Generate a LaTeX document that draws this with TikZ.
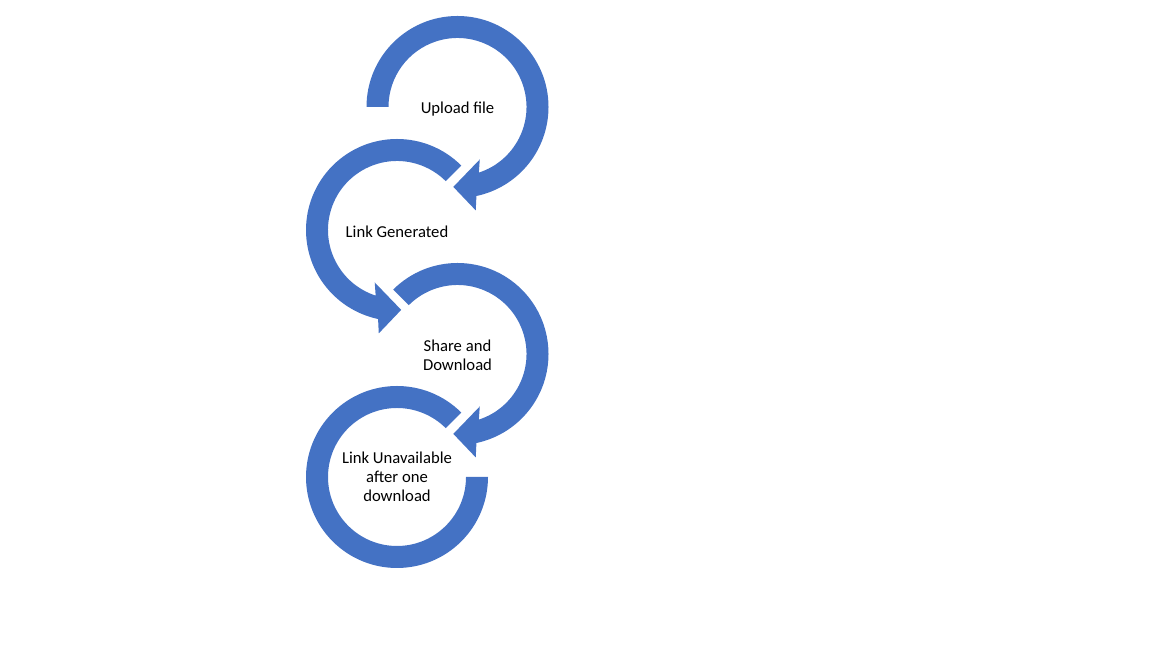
\documentclass[tikz,border=0pt]{standalone}
\usepackage{fontspec}
\setmainfont{Carlito}
\definecolor{officeblue}{HTML}{4472C4}
\begin{document}
\begin{tikzpicture}[x=0.75pt, y=0.75pt, line join=round, band/.style={fill=officeblue}, steptext/.style={align=center, font=\fontsize{12.5}{14.25}\selectfont}]
	\useasboundingbox (0,0) rectangle (1152,648);
	\coordinate (c1) at (457.5,541);
	\coordinate (c2) at (397,418);
	\coordinate (c3) at (457.5,294);
	\coordinate (c4) at (397,171);
	% clockwise arrows
	\begin{scope}[shift={(c1)}]
		\fill[band] (180:91) arc[start angle=180, end angle=-78, radius=91] -- (-80:105) -- (-93:80) -- (-67:57) -- (-72:69) arc[start angle=-72, end angle=180, radius=69] -- cycle;
	\end{scope}
	\begin{scope}[shift={(c3)}]
		\fill[band] (135:91) arc[start angle=135, end angle=-78, radius=91] -- (-80:105) -- (-93:80) -- (-67:57) -- (-72:69) arc[start angle=-72, end angle=135, radius=69] -- cycle;
	\end{scope}
	% counterclockwise arrow
	\begin{scope}[shift={(c2)}]
		\fill[band] (45:91) arc[start angle=45, end angle=258, radius=91] -- (260:105) -- (273:80) -- (247:57) -- (252:69) arc[start angle=252, end angle=45, radius=69] -- cycle;
	\end{scope}
	% last ring, no head
	\begin{scope}[shift={(c4)}]
		\fill[band] (45:91) arc[start angle=45, end angle=360, radius=91] -- (0:69) arc[start angle=360, end angle=45, radius=69] -- cycle;
	\end{scope}
	\node[steptext] (upload) at ([yshift=-1.5]c1) {Upload file};
	\node[steptext] (link) at ([yshift=-1]c2) {Link Generated};
	\node[steptext] (share) at ([yshift=-1]c3) {Share and\\Download};
	\node[steptext] (gone) at (c4) {Link Unavailable\\after one\\download};
\end{tikzpicture}
\end{document}
